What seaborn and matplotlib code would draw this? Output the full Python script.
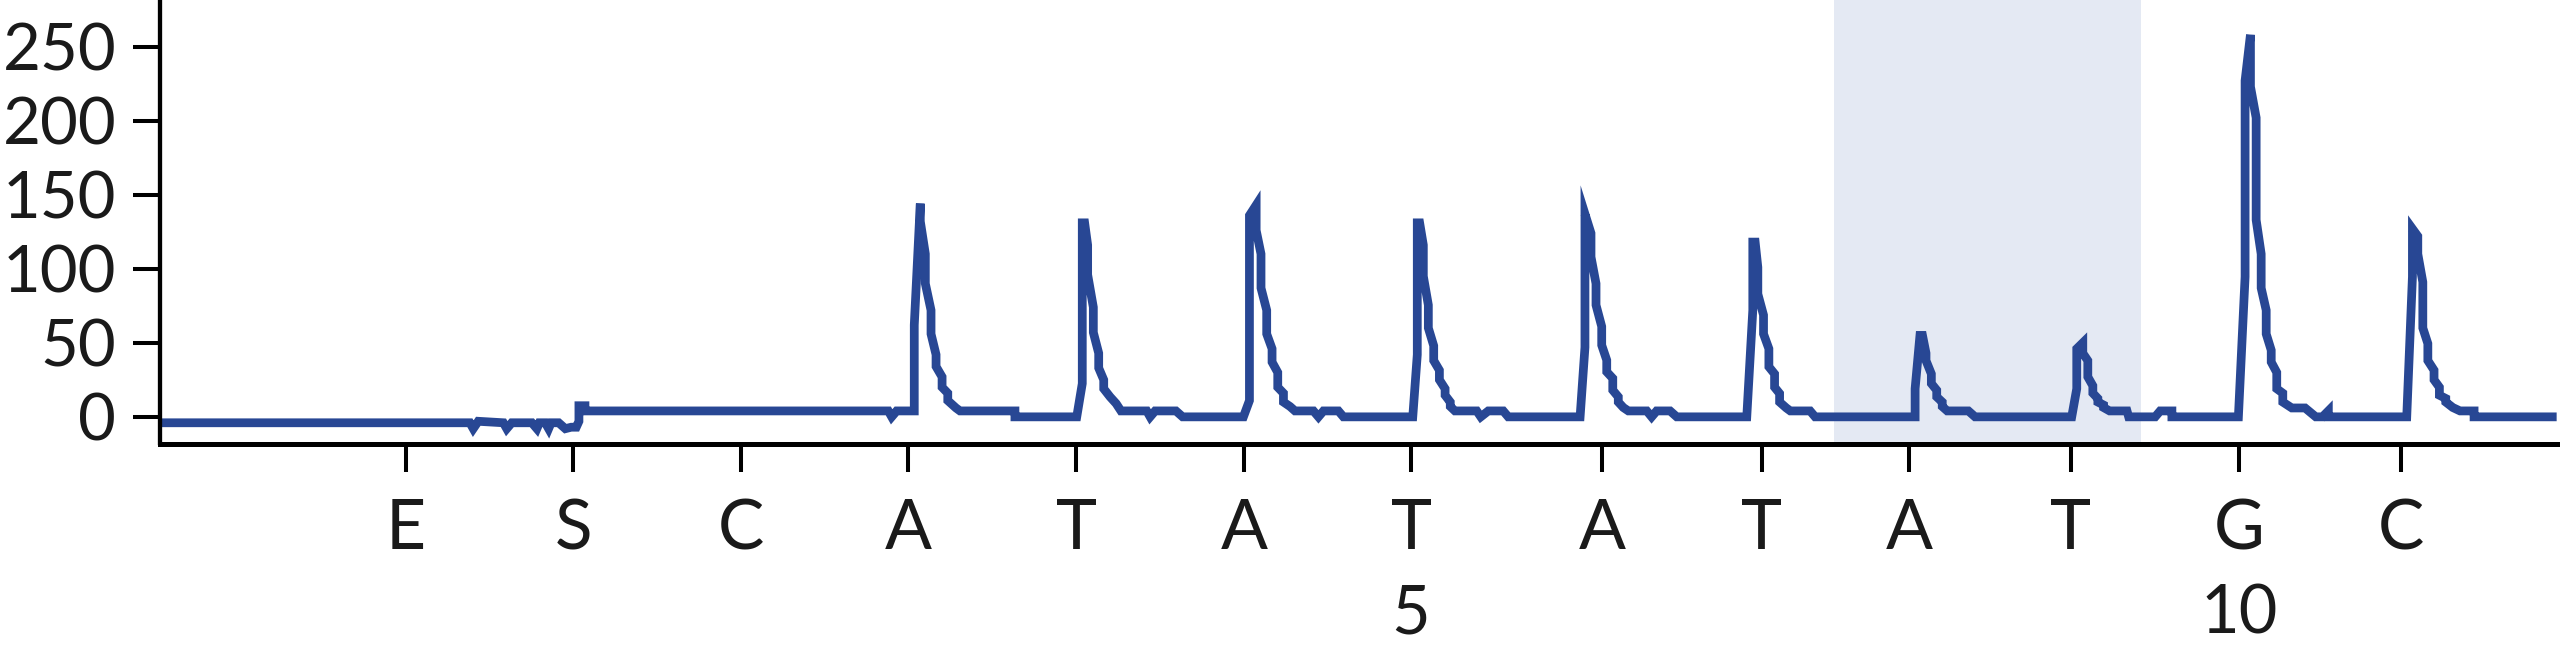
import pandas as pd
import matplotlib
matplotlib.use("Agg")
import matplotlib.pyplot as plt
import matplotlib.transforms as mtransforms
import seaborn as sns

# Pyrogram trace (time in arbitrary units, signal in RLU)
trace_time = [
    # baseline before the first dispensations
    0, 185, 187, 190, 205, 207, 210, 222, 225, 226.5, 230, 232, 233.5, 238, 242,
    245.5, 248.5, 250.1, 250.1, 253.7, 253.7,
    # A (peak 1)
    434.8, 436.8, 439.8, 450.3, 450.3, 453.9, 453.9, 456.9, 456.9, 460.3, 460.3,
    463.3, 463.3, 466.9, 466.9, 470.3, 470.3, 475.2, 477.6, 510.4, 510.4,
    # T
    547.3, 550.6, 550.6, 552.0, 553.8, 553.8, 557.2, 557.2, 560.4, 560.4, 563.4,
    563.4, 567.2, 570.8, 573.7, 589.1, 591.1, 594.1, 606.5, 610.5,
    # A
    646.8, 650.4, 650.4, 654.4, 654.4, 657.3, 657.3, 660.7, 660.7, 663.9, 663.9,
    667.3, 667.3, 670.7, 670.7, 674.6, 677.6, 688.6, 691.6, 694.6, 703.5, 706.5,
    # T
    747.9, 750.6, 750.6, 752.0, 754.2, 754.2, 757.2, 757.2, 760.4, 760.4, 763.8,
    763.8, 767.2, 767.2, 770.3, 770.3, 773.1, 786.1, 788.5, 793.0, 801.9, 804.9,
    # A
    847.8, 850.7, 850.7, 854.3, 854.3, 857.3, 857.3, 860.7, 860.7, 863.7, 863.7,
    867.3, 867.3, 870.6, 870.6, 873.6, 876.6, 887.6, 890.5, 893.5, 901.5, 905.5,
    # T
    947.3, 950.9, 950.9, 952.3, 953.9, 953.9, 957.3, 957.3, 960.5, 960.5, 963.9,
    963.9, 966.9, 966.9, 970.9, 973.3, 985.1, 988.1,
    # A
    1047.8, 1047.8, 1050.7, 1052.2, 1054.3, 1054.3, 1057.5, 1057.5, 1060.7, 1060.7,
    1064.0, 1064.0, 1067.0, 1079.6, 1083.6,
    # T
    1141.3, 1144.3, 1144.3, 1147.9, 1147.9, 1150.9, 1150.9, 1153.9, 1153.9, 1156.9,
    1156.9, 1160.3, 1160.3, 1163.9, 1174.3, 1175.3, 1191.1, 1194.1, 1201.1, 1201.1,
    # G
    1240.8, 1244.8, 1244.8, 1248.0, 1248.0, 1251.4, 1251.4, 1254.4, 1254.4, 1257.4,
    1257.4, 1260.4, 1260.4, 1263.7, 1263.7, 1267.3, 1267.3, 1272.7, 1280.6, 1287.0,
    1291.0, 1294.5, 1294.5,
    # C
    1341.3, 1344.7, 1344.7, 1347.9, 1347.9, 1350.9, 1350.9, 1353.9, 1353.9, 1357.6,
    1357.6, 1360.8, 1360.8, 1364.6, 1364.6, 1368.8, 1373.1, 1381.5, 1381.5, 1430.8,
]
trace_signal = [
    -4, -4, -8, -3, -4, -8, -4, -4, -8, -4, -4, -8, -4, -4, -8,
    -7, -7, -3, 7.5, 7.5, 4,
    4, 0, 4, 4, 62, 144, 132, 110, 90, 72, 56,
    42, 34, 27, 20, 16, 11, 6, 4, 4, 0,
    0, 22.5, 131, 131, 116, 96, 74, 57, 43, 33, 25,
    19, 13.5, 9, 4, 4, 0, 4, 4, 0,
    0, 11, 136, 143, 126, 110, 87, 72, 56, 46, 37,
    30, 20, 16, 10, 7, 4, 4, 0, 4, 4, 0,
    0, 42, 131, 131, 116, 95, 75.5, 60, 48, 38, 31.5,
    25, 19, 14.6, 10, 7, 4, 4, 0, 4, 4, 0,
    0, 47, 137, 124, 108, 90, 75.5, 61, 48.4, 38.3, 30.4,
    26, 18, 13.5, 10, 6.3, 4, 4, 0, 4, 4, 0,
    0, 72, 118, 118, 101, 83, 68.7, 56, 46, 33.8, 29,
    20, 15.8, 10, 6, 4, 4, 0,
    0, 19, 55, 55, 43, 38, 29, 22.5, 18, 13.5,
    10, 7, 4, 4, 0,
    0, 19, 46, 50, 43, 38, 27, 21, 16, 12.4,
    10, 8, 6.3, 4, 4, 0, 0, 4, 4, 0,
    0, 94.6, 227, 258, 223, 202, 133, 110, 87, 72,
    56, 45, 37, 30, 19, 16, 10, 6, 6, 0,
    0, 4, 0,
    0, 94.6, 127, 122, 110, 91, 60, 49.5, 38, 31.5,
    25, 20, 14.6, 12.4, 10, 6.3, 4, 4, 0, 0,
]

# dispensation order and where each dispensation sits on the time axis
dispensations = ["E", "S", "C", "A", "T", "A", "T", "A", "T", "A", "T", "G", "C"]
dispense_time = [146.7, 246.7, 346.9, 446.8, 547.0, 647.2, 746.9, 861.1,
                 956.2, 1044.2, 1140.7, 1241.2, 1337.9]
# sequence position numbers printed under some dispensations
position_marks = {6: "5", 11: "10"}
# highlighted variable position
highlight_span = (999.4, 1182.7)

y_ticks = [0, 50, 100, 150, 200, 250]

df = pd.DataFrame({"time": trace_time, "signal": trace_signal})

sns.set_style("ticks")
plt.rcParams["font.family"] = ["Lato", "DejaVu Sans"]

fig = plt.figure(figsize=(25.6, 6.54), dpi=100)
ax = fig.add_axes([0.0625, 1 - 443.5 / 654, 0.9375, 443.5 / 654])

ax.axvspan(*highlight_span, color="#e4e9f3", lw=0, zorder=0)
sns.lineplot(data=df, x="time", y="signal", sort=False, estimator=None,
             color="#284794", ax=ax, zorder=2)
trace_line = ax.lines[-1]
trace_line.set_linewidth(6.3)
trace_line.set_solid_joinstyle("miter")
trace_line.set_solid_capstyle("butt")

ax.set_xlim(0, 1432.8)
ax.set_ylim(-18, 281.5)
ax.set_xticks(dispense_time)
ax.set_xticklabels(dispensations, fontsize=50, color="#1a1a1a")
ax.set_yticks(y_ticks)
ax.set_yticklabels([str(v) for v in y_ticks], fontsize=47, color="#1a1a1a")
ax.tick_params(axis="x", length=20.5, width=2.9, pad=19, color="black")
ax.tick_params(axis="y", length=19.5, width=2.9, pad=12, color="black")
ax.set_xlabel("")
ax.set_ylabel("")

sns.despine(ax=ax)
ax.spines["left"].set_linewidth(3.1)
ax.spines["bottom"].set_linewidth(3.6)
ax.spines["left"].set_color("black")
ax.spines["bottom"].set_color("black")

trans = mtransforms.blended_transform_factory(ax.transData, ax.transAxes)
for idx, label in position_marks.items():
    ax.text(dispense_time[idx], -0.4295, label, transform=trans, ha="center",
            va="baseline", fontsize=48, color="#1a1a1a")

fig.savefig("out.png", dpi=100)
